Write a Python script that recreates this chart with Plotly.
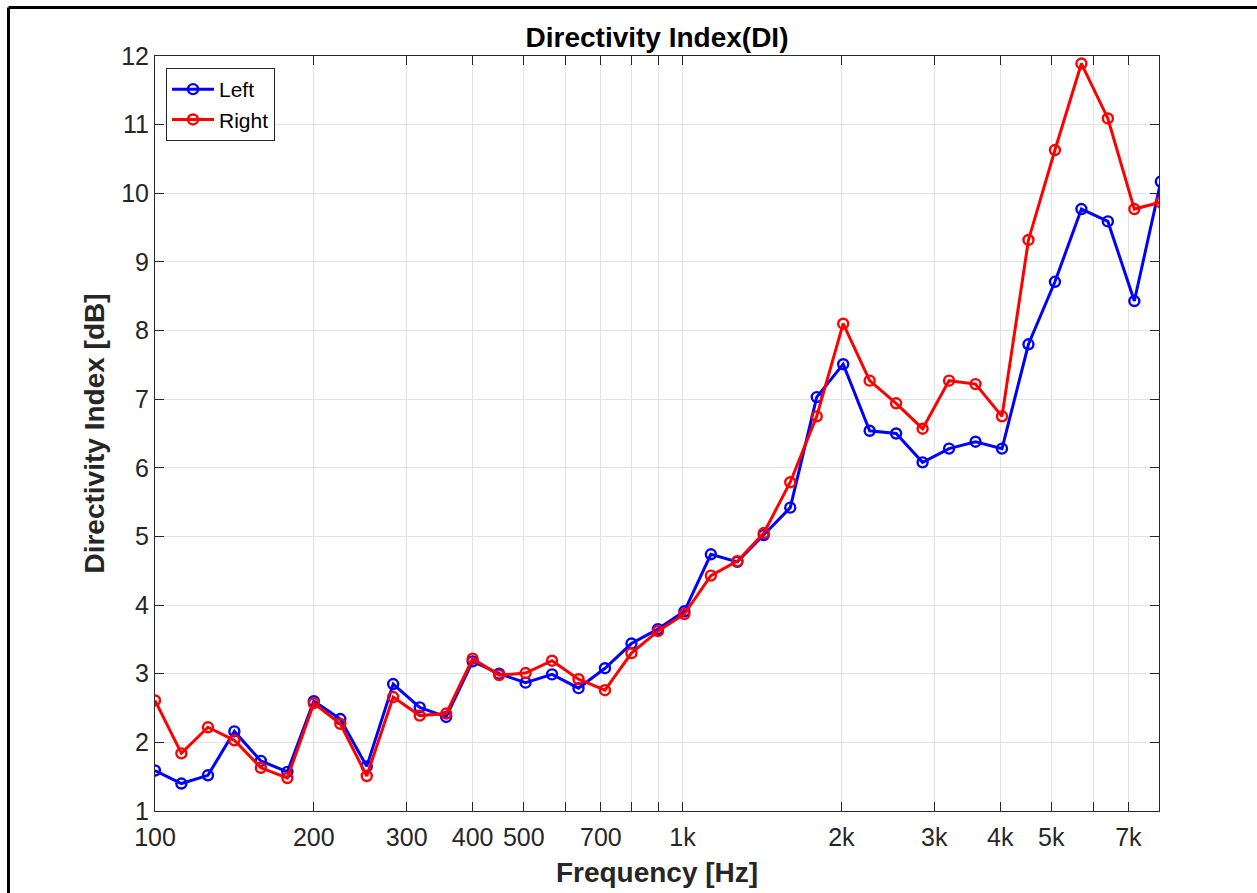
import plotly.graph_objects as go

# 1/6-octave band centre frequencies (Hz)
freqs = [100.0, 112.2, 126.0, 141.4, 158.7, 178.2, 200.0, 224.5, 252.0, 282.8,
         317.5, 356.4, 400.0, 449.0, 504.0, 565.7, 635.0, 712.7, 800.0, 898.0,
         1007.9, 1131.4, 1270.0, 1425.4, 1600.0, 1796.0, 2015.9, 2262.7, 2539.8, 2850.8,
         3200.0, 3591.9, 4031.7, 4525.5, 5079.7, 5701.8, 6400.0, 7183.8, 8063.4]

left_di = [1.59, 1.40, 1.52, 2.16, 1.73, 1.57, 2.60, 2.34, 1.65, 2.85,
           2.51, 2.37, 3.18, 3.00, 2.87, 2.99, 2.79, 3.08, 3.44, 3.65,
           3.91, 4.74, 4.63, 5.02, 5.42, 7.03, 7.51, 6.54, 6.50, 6.08,
           6.28, 6.38, 6.28, 7.80, 8.71, 9.77, 9.59, 8.43, 10.17]

right_di = [2.61, 1.84, 2.22, 2.03, 1.63, 1.48, 2.57, 2.27, 1.51, 2.66,
            2.39, 2.42, 3.22, 2.98, 3.01, 3.19, 2.92, 2.76, 3.30, 3.62,
            3.87, 4.43, 4.64, 5.05, 5.79, 6.75, 8.10, 7.27, 6.94, 6.57,
            7.27, 7.22, 6.75, 9.32, 10.63, 11.89, 11.09, 9.77, 9.87]

x_tick_vals = [100, 200, 300, 400, 500, 600, 700, 800, 900, 1000,
               2000, 3000, 4000, 5000, 6000, 7000]
x_tick_text = ["100", "200", "300", "400", "500", "", "700", "", "", "1k",
               "2k", "3k", "4k", "5k", "", "7k"]
y_tick_vals = [1, 2, 3, 4, 5, 6, 7, 8, 9, 10, 11, 12]

W, H = 1257, 893
L, R, T, B = 155, 98, 56, 82
pw, ph = W - L - R, H - T - B

font_family = "Liberation Sans, Arial, Helvetica, sans-serif"
axis_col = "#262626"
grid_col = "#e3e3e3"

fig = go.Figure()
fig.add_trace(go.Scatter(
    x=freqs, y=left_di, name="Left", mode="lines+markers",
    line=dict(color="#0000ff", width=3),
    marker=dict(symbol="circle-open", size=10, color="#0000ff", line=dict(width=2.4)),
))
fig.add_trace(go.Scatter(
    x=freqs, y=right_di, name="Right", mode="lines+markers",
    line=dict(color="#ff0000", width=3),
    marker=dict(symbol="circle-open", size=10, color="#ff0000", line=dict(width=2.4)),
))

fig.update_layout(
    width=W, height=H,
    margin=dict(l=L, r=R, t=T, b=B, autoexpand=False),
    paper_bgcolor="white", plot_bgcolor="white",
    font=dict(family=font_family, color=axis_col),
    title=dict(text="<b>Directivity Index(DI)</b>", x=(L + pw / 2) / W, xanchor="center",
               y=1 - 37 / H, yanchor="middle",
               font=dict(size=28, color="black", family=font_family)),
    showlegend=True,
    legend=dict(x=11 / pw, y=1 - 12 / ph, xanchor="left", yanchor="top",
                bgcolor="white", bordercolor=axis_col, borderwidth=1,
                font=dict(size=21, color="black", family=font_family),
                itemwidth=42, tracegroupgap=0),
)

fig.update_xaxes(
    type="log", range=[2, 3.90309],
    tickvals=x_tick_vals, ticktext=x_tick_text,
    ticks="inside", ticklen=9, tickwidth=1, tickcolor=axis_col,
    showline=True, linecolor=axis_col, linewidth=1, mirror="ticks",
    showgrid=True, gridcolor=grid_col, gridwidth=1,
    tickfont=dict(size=25, color=axis_col), ticklabelstandoff=4,
    title=dict(text="<b>Frequency [Hz]</b>", font=dict(size=28, color=axis_col), standoff=12),
    zeroline=False,
)
fig.update_yaxes(
    range=[1, 12], tickvals=y_tick_vals,
    ticks="inside", ticklen=9, tickwidth=1, tickcolor=axis_col,
    showline=True, linecolor=axis_col, linewidth=1, mirror="ticks",
    showgrid=True, gridcolor=grid_col, gridwidth=1,
    tickfont=dict(size=25, color=axis_col),
    title=dict(text="<b>Directivity Index [dB]</b>", font=dict(size=28, color=axis_col), standoff=8),
    zeroline=False,
)

# figure frame (top and left border lines of the screenshot)
top_y = 1 + (T - 7.5) / ph
left_x = (8.5 - L) / pw
fig.add_shape(type="line", xref="paper", yref="paper",
              x0=left_x, x1=(W - L + 5) / pw, y0=top_y, y1=top_y,
              line=dict(color="black", width=3))
fig.add_shape(type="line", xref="paper", yref="paper",
              x0=left_x, x1=left_x, y0=top_y, y1=-(B + 5) / ph,
              line=dict(color="black", width=3))

fig.write_html("out.html",
               config={"displayModeBar": False},
               post_script="document.body.style.margin='0';document.body.style.overflow='hidden';")
